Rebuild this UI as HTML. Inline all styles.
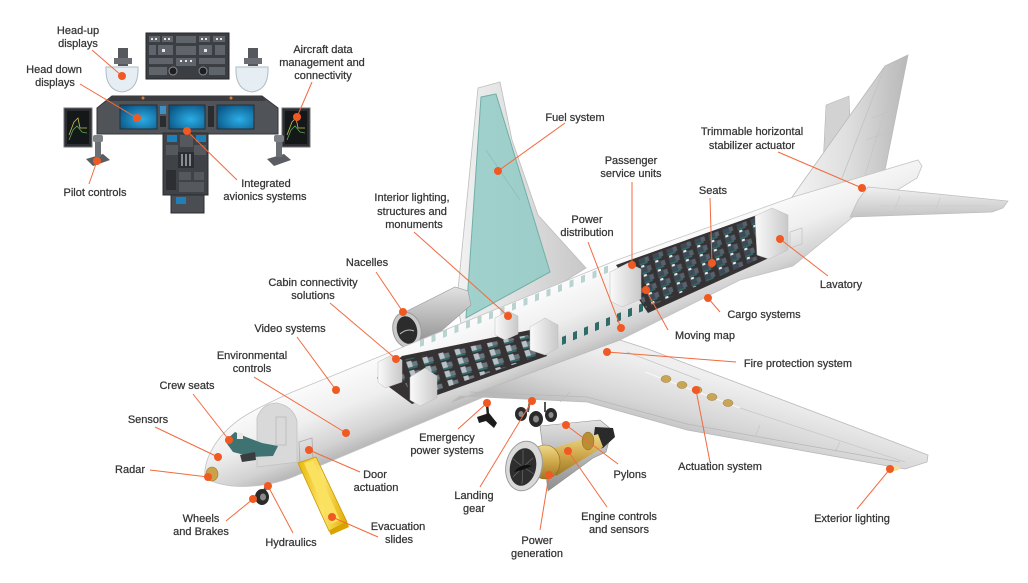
<!DOCTYPE html>
<html><head><meta charset="utf-8">
<style>
html,body{margin:0;padding:0;background:#fff;}
svg{display:block;}
text{font-family:"Liberation Sans",sans-serif;font-size:11px;fill:#353535;stroke:#353535;stroke-width:0.25;text-anchor:middle;}
</style></head><body>
<svg width="1028" height="583" viewBox="0 0 1028 583" xmlns="http://www.w3.org/2000/svg">
<defs>
 <linearGradient id="fus" gradientUnits="userSpaceOnUse" x1="556" y1="280" x2="588" y2="360">
  <stop offset="0" stop-color="#fdfdfd"/>
  <stop offset="0.45" stop-color="#efefef"/>
  <stop offset="0.8" stop-color="#d2d2d2"/>
  <stop offset="1" stop-color="#b4b4b4"/>
 </linearGradient>
 <linearGradient id="wing" gradientUnits="userSpaceOnUse" x1="690" y1="372" x2="672" y2="440">
  <stop offset="0" stop-color="#efefef"/>
  <stop offset="0.6" stop-color="#d6d6d6"/>
  <stop offset="1" stop-color="#b9b9b9"/>
 </linearGradient>
 <linearGradient id="fwing" x1="0" y1="0" x2="1" y2="0">
  <stop offset="0" stop-color="#f2f2f2"/>
  <stop offset="1" stop-color="#c8c8c8"/>
 </linearGradient>
 <linearGradient id="fin" x1="0" y1="0" x2="1" y2="0">
  <stop offset="0" stop-color="#f4f4f4"/>
  <stop offset="0.5" stop-color="#dedede"/>
  <stop offset="1" stop-color="#b8b8b8"/>
 </linearGradient>
 <linearGradient id="stab" x1="0" y1="0" x2="0" y2="1">
  <stop offset="0" stop-color="#f0f0f0"/>
  <stop offset="1" stop-color="#c4c4c4"/>
 </linearGradient>
 <linearGradient id="nac" x1="0" y1="0" x2="0" y2="1">
  <stop offset="0" stop-color="#e2e2e2"/>
  <stop offset="1" stop-color="#8e8e8e"/>
 </linearGradient>
 <linearGradient id="gold" x1="0" y1="0" x2="0" y2="1">
  <stop offset="0" stop-color="#f0d88a"/>
  <stop offset="0.5" stop-color="#cfa84a"/>
  <stop offset="1" stop-color="#9c7625"/>
 </linearGradient>
 <linearGradient id="wall" x1="0" y1="0" x2="1" y2="0">
  <stop offset="0" stop-color="#fafafa"/>
  <stop offset="1" stop-color="#c9c9c9"/>
 </linearGradient>
 <radialGradient id="scr" cx="0.6" cy="0.6" r="0.7">
  <stop offset="0" stop-color="#2aaee6"/>
  <stop offset="1" stop-color="#0b5586"/>
 </radialGradient>
 <linearGradient id="slide" x1="0" y1="0" x2="1" y2="0">
  <stop offset="0" stop-color="#e8b90c"/>
  <stop offset="0.5" stop-color="#fde46a"/>
  <stop offset="1" stop-color="#e0ad00"/>
 </linearGradient>
 <pattern id="seatsF" patternUnits="userSpaceOnUse" width="16" height="10" patternTransform="translate(404,362) matrix(1,-0.26,0.3,0.9,0,0)">
  <rect x="2" y="0.5" width="5" height="7" fill="#b7c1c7"/>
  <rect x="7" y="2" width="5" height="5" fill="#6c7880"/>
  <rect x="2" y="7" width="9" height="2" fill="#2f6b68"/>
 </pattern>
 <pattern id="seatsR" patternUnits="userSpaceOnUse" width="14" height="9" patternTransform="translate(624,272) matrix(1,-0.36,0.28,1,0,0)">
  <rect x="2" y="1" width="6" height="6" fill="#3e4a55"/>
  <rect x="8" y="2" width="4" height="5" fill="#56636e"/>
  <rect x="3" y="0" width="3" height="2" fill="#e8eef0"/>
  <rect x="2" y="7" width="8" height="1.5" fill="#2f6b68"/>
 </pattern>
</defs>

<!-- ============ COCKPIT ============ -->
<g>
 <rect x="146" y="33" width="83" height="46" fill="#3b3e43" stroke="#24262a"/>
 <g fill="#60656c">
  <rect x="149" y="36" width="11" height="6"/><rect x="162" y="36" width="11" height="6"/>
  <rect x="176" y="36" width="20" height="7"/><rect x="199" y="36" width="11" height="6"/><rect x="213" y="36" width="12" height="6"/>
  <rect x="149" y="45" width="7" height="10"/><rect x="158" y="45" width="15" height="10"/>
  <rect x="176" y="46" width="20" height="9"/><rect x="199" y="45" width="13" height="10"/><rect x="215" y="45" width="10" height="10"/>
  <rect x="149" y="58" width="24" height="6"/><rect x="176" y="58" width="20" height="8"/><rect x="199" y="58" width="26" height="6"/>
  <rect x="149" y="67" width="18" height="8"/><rect x="209" y="67" width="16" height="8"/>
 </g>
 <g fill="#e6e6e6">
  <rect x="151" y="38" width="2" height="2"/><rect x="155" y="38" width="2" height="2"/><rect x="164" y="38" width="2" height="2"/><rect x="168" y="38" width="2" height="2"/>
  <rect x="201" y="38" width="2" height="2"/><rect x="205" y="38" width="2" height="2"/><rect x="216" y="38" width="2" height="2"/><rect x="220" y="38" width="2" height="2"/>
  <rect x="180" y="60" width="2" height="2"/><rect x="185" y="60" width="2" height="2"/><rect x="190" y="60" width="2" height="2"/>
  <rect x="162" y="49" width="3" height="3"/><rect x="204" y="49" width="3" height="3"/>
 </g>
 <circle cx="173" cy="71" r="4" fill="#1e1f22" stroke="#8a8d92" stroke-width="1"/>
 <circle cx="203" cy="71" r="4" fill="#1e1f22" stroke="#8a8d92" stroke-width="1"/>

 <rect x="118" y="48" width="10" height="18" fill="#55585c"/>
 <rect x="114" y="58" width="18" height="6" fill="#6b6e72"/>
 <path d="M106,67 L138,67 Q139,90 122,92 Q105,90 106,67 Z" fill="#e7eef3" stroke="#aebbc4"/>
 <rect x="248" y="48" width="10" height="18" fill="#55585c"/>
 <rect x="244" y="58" width="18" height="6" fill="#6b6e72"/>
 <path d="M236,67 L268,67 Q269,90 252,92 Q235,90 236,67 Z" fill="#e7eef3" stroke="#aebbc4"/>

 <path d="M97,108 L112,96 L262,96 L278,108 L278,134 L97,134 Z" fill="#505358" stroke="#34363a"/>
 <path d="M112,96 L262,96 L266,101 L108,101 Z" fill="#3a3c40"/>
 <circle cx="143" cy="98" r="1.5" fill="#e0782f"/><circle cx="231" cy="98" r="1.5" fill="#e0782f"/>
 <rect x="120" y="105" width="37" height="24" fill="url(#scr)" stroke="#2a2c2f"/>
 <rect x="169" y="105" width="36" height="24" fill="url(#scr)" stroke="#2a2c2f"/>
 <rect x="217" y="105" width="37" height="24" fill="url(#scr)" stroke="#2a2c2f"/>
 <rect x="160" y="106" width="6" height="8" fill="#3d8fc4"/><rect x="160" y="116" width="6" height="11" fill="#2a2c30"/>
 <rect x="208" y="106" width="6" height="21" fill="#2a2c30"/>

 <rect x="163" y="133" width="45" height="62" fill="#3f4247" stroke="#2a2c2f"/>
 <rect x="167" y="135" width="10" height="7" fill="#1f7fb8"/><rect x="196" y="135" width="10" height="7" fill="#1f7fb8"/>
 <rect x="180" y="135" width="13" height="12" fill="#55595e"/>
 <rect x="166" y="145" width="12" height="10" fill="#55595e"/><rect x="194" y="145" width="12" height="10" fill="#55595e"/>
 <rect x="178" y="152" width="16" height="16" fill="#2c2e31"/>
 <rect x="181" y="154" width="2" height="12" fill="#8a8d91"/><rect x="185" y="154" width="2" height="12" fill="#8a8d91"/><rect x="189" y="154" width="2" height="12" fill="#8a8d91"/>
 <rect x="166" y="170" width="10" height="20" fill="#2c2e31"/><rect x="179" y="172" width="12" height="8" fill="#55595e"/><rect x="194" y="172" width="10" height="8" fill="#55595e"/>
 <rect x="179" y="182" width="25" height="10" fill="#55595e"/>
 <rect x="171" y="195" width="33" height="18" fill="#4a4d52" stroke="#2a2c2f"/>
 <rect x="176" y="197" width="10" height="7" fill="#1f7fb8"/>

 <rect x="64" y="108" width="28" height="39" fill="#2c2e31" stroke="#707377"/>
 <rect x="67" y="111" width="22" height="33" fill="#151819"/>
 <polyline points="69,135 74,122 78,118 80,128 87,128" fill="none" stroke="#c9c24a" stroke-width="0.8"/>
 <polyline points="69,140 73,130 77,126 82,132 87,133" fill="none" stroke="#5aa65a" stroke-width="0.8"/>
 <rect x="282" y="108" width="28" height="39" fill="#2c2e31" stroke="#707377"/>
 <rect x="285" y="111" width="22" height="33" fill="#151819"/>
 <polyline points="287,135 292,122 296,118 298,128 305,128" fill="none" stroke="#c9c24a" stroke-width="0.8"/>
 <polyline points="287,140 291,130 295,126 300,132 305,133" fill="none" stroke="#5aa65a" stroke-width="0.8"/>

 <polygon points="86,159 103,154 110,160 93,166" fill="#5a5d61"/>
 <rect x="95" y="139" width="6" height="18" fill="#6c6f73"/>
 <rect x="93" y="135" width="10" height="7" rx="2" fill="#7d8085"/>
 <polygon points="267,159 284,154 291,160 274,166" fill="#5a5d61"/>
 <rect x="276" y="139" width="6" height="18" fill="#6c6f73"/>
 <rect x="274" y="135" width="10" height="7" rx="2" fill="#7d8085"/>
</g>

<!-- ============ AIRCRAFT ============ -->
<polygon points="478,88 500,82 512,140 538,215 586,268 560,284 462,330 457,300" fill="url(#fwing)" stroke="#bdbdbd" stroke-width="0.8"/>
<polygon points="481,97 496,94 550,272 466,318" fill="#93cbc5" fill-opacity="0.85" stroke="#6fb0a8" stroke-width="1"/>
<line x1="486" y1="150" x2="520" y2="200" stroke="#7fbab3" stroke-width="0.6"/>

<polygon points="405,312 455,287 468,291 471,305 424,346 410,347" fill="url(#nac)" stroke="#9a9a9a" stroke-width="0.6"/>
<ellipse cx="407" cy="330" rx="14" ry="18" transform="rotate(-15 407 330)" fill="#c9c9c9" stroke="#9a9a9a"/>
<ellipse cx="407" cy="330" rx="10" ry="14" transform="rotate(-15 407 330)" fill="#2c2c2c"/>
<path d="M400,334 Q407,328 414,331" stroke="#bdbdbd" fill="none" stroke-width="1"/>

<polygon points="826,105 849,96 852,170 822,186" fill="#d2d2d2" stroke="#b5b5b5" stroke-width="0.6"/>
<polygon points="790,200 885,66 908,55 885,170" fill="url(#fin)" stroke="#b9b9b9" stroke-width="0.8"/>
<line x1="885" y1="66" x2="842" y2="178" stroke="#c2c2c2" stroke-width="0.8"/>
<line x1="900" y1="62" x2="865" y2="175" stroke="#c2c2c2" stroke-width="0.6"/>
<line x1="872" y1="118" x2="893" y2="110" stroke="#c2c2c2" stroke-width="0.6"/>
<line x1="866" y1="140" x2="888" y2="132" stroke="#c2c2c2" stroke-width="0.6"/>

<path d="M205,478 C203,460 216,436 240,419 C252,411 262,406 290,393 L617,260 L793,197 L918,160 L922,166 L917,178 L853,217 L793,266 L740,280 L620,340 L300,474 C272,487 230,492 205,478 Z" fill="url(#fus)" stroke="#c4c4c4" stroke-width="0.8"/>

<g transform="translate(420,347) skewY(-21.6)" fill="#b8d3d0">
 <rect x="0" y="-7" width="4" height="7"/><rect x="11.5" y="-7" width="4" height="7"/><rect x="23" y="-7" width="4" height="7"/>
 <rect x="34.5" y="-7" width="4" height="7"/><rect x="46" y="-7" width="4" height="7"/><rect x="57.5" y="-7" width="4" height="7"/>
 <rect x="69" y="-7" width="4" height="7"/><rect x="80.5" y="-7" width="4" height="7"/><rect x="92" y="-7" width="4" height="7"/>
 <rect x="103.5" y="-7" width="4" height="7"/><rect x="115" y="-7" width="4" height="7"/><rect x="126.5" y="-7" width="4" height="7"/>
 <rect x="138" y="-7" width="4" height="7"/><rect x="149.5" y="-7" width="4" height="7"/><rect x="161" y="-7" width="4" height="7"/>
 <rect x="172.5" y="-7" width="4" height="7"/><rect x="184" y="-7" width="4" height="7"/>
</g>
<g transform="translate(562,345) skewY(-22.8)" fill="#2f6b68">
 <rect x="0" y="-8" width="4" height="8"/><rect x="11" y="-8" width="4" height="8"/><rect x="22" y="-8" width="4" height="8"/>
 <rect x="33" y="-8" width="4" height="8"/><rect x="44" y="-8" width="4" height="8"/><rect x="55" y="-8" width="4" height="8"/>
 <rect x="66" y="-8" width="4" height="8"/><rect x="77" y="-8" width="4" height="8"/><rect x="88" y="-8" width="4" height="8"/>
</g>

<polygon points="377,378 402,356 530,330 547,356 412,404" fill="#363234"/>
<polygon points="392,362 528,335 542,355 414,398" fill="url(#seatsF)"/>
<polygon points="378,362 392,355 402,360 402,382 385,388 378,382" fill="url(#wall)" stroke="#bdbdbd" stroke-width="0.5"/>
<polygon points="410,377 425,368 437,376 437,398 420,406 410,400" fill="url(#wall)" stroke="#bdbdbd" stroke-width="0.5"/>
<polygon points="495,318 508,311 518,316 518,334 505,340 495,335" fill="url(#wall)" stroke="#bdbdbd" stroke-width="0.5"/>
<polygon points="530,327 545,318 558,325 558,348 545,355 530,350" fill="url(#wall)" stroke="#bdbdbd" stroke-width="0.5"/>

<polygon points="616,265 760,214 769,258 648,313" fill="#363234"/>
<polygon points="620,266 758,217 766,256 646,308" fill="url(#seatsR)"/>
<polygon points="610,272 628,263 641,269 641,299 622,307 610,301" fill="url(#wall)" stroke="#bdbdbd" stroke-width="0.5"/>
<polygon points="755,216 772,208 788,215 788,250 769,259 757,255" fill="url(#wall)" stroke="#bdbdbd" stroke-width="0.5"/>
<polygon points="790,232 802,228 802,244 790,248" fill="none" stroke="#c2c2c2" stroke-width="0.7"/>

<path d="M257,467 L257,418 Q262,403 277,403 Q293,406 297,421 L297,462 Z" fill="#d9d9d9" stroke="#c2c2c2" stroke-width="0.8"/>
<rect x="276" y="417" width="10" height="28" fill="none" stroke="#b5b5b5" stroke-width="0.7"/>
<polygon points="299,442 312,438 313,460 300,464" fill="none" stroke="#aaaaaa" stroke-width="0.8"/>
<polygon points="225,441 235,432 246,437 262,443 278,446 273,456 252,457 233,452" fill="#3f7371"/>
<rect x="237" y="433" width="6" height="6" fill="#e9e9e9"/>
<polygon points="240,455 255,452 256,460 242,462" fill="#3a3d40"/>
<ellipse cx="212" cy="474" rx="6" ry="7" fill="#c9a24a" stroke="#9f7d2e" stroke-width="0.6"/>

<polygon points="868,187 1008,201 1003,208 992,212 850,217 858,200" fill="url(#stab)" stroke="#bcbcbc" stroke-width="0.7"/>
<line x1="880" y1="206" x2="990" y2="206" stroke="#c8c8c8" stroke-width="0.6"/>
<line x1="900" y1="196" x2="893" y2="214" stroke="#c8c8c8" stroke-width="0.6"/>
<line x1="940" y1="198" x2="935" y2="212" stroke="#c8c8c8" stroke-width="0.6"/>

<polygon points="452,402 620,340 648,349 928,455 927,462 905,469 793,449 687,430 587,402 460,396" fill="url(#wing)" stroke="#b9b9b9" stroke-width="0.8"/>
<polyline points="470,392 587,397 687,424 793,443 900,462" fill="none" stroke="#b7b7b7" stroke-width="0.8"/>
<line x1="627" y1="352" x2="700" y2="380" stroke="#c4c4c4" stroke-width="0.7"/>
<line x1="645" y1="372" x2="740" y2="408" stroke="#f7f7f7" stroke-width="1.2"/>
<line x1="740" y1="408" x2="905" y2="462" stroke="#c6c6c6" stroke-width="0.7"/>
<line x1="570" y1="392" x2="560" y2="402" stroke="#bdbdbd" stroke-width="0.7"/>
<line x1="760" y1="425" x2="755" y2="437" stroke="#c4c4c4" stroke-width="0.7"/>
<line x1="840" y1="442" x2="835" y2="452" stroke="#c4c4c4" stroke-width="0.7"/>
<g fill="#c9a55a" stroke="#9c7a33" stroke-width="0.5">
 <ellipse cx="666" cy="379" rx="5" ry="3.5"/><ellipse cx="682" cy="385" rx="5" ry="3.5"/>
 <ellipse cx="697" cy="390" rx="5" ry="3.5"/><ellipse cx="712" cy="397" rx="5" ry="3.5"/>
 <ellipse cx="728" cy="403" rx="5" ry="3.5"/>
</g>
<ellipse cx="893" cy="468" rx="7" ry="3" fill="#f5dca0"/>

<polygon points="540,426 600,420 612,430 606,452 593,458 548,491" fill="url(#nac)" stroke="#8a8a8a" stroke-width="0.6"/>
<polygon points="595,427 613,428 615,437 603,448 592,450" fill="#2a2a2a"/>
<polygon points="548,450 598,434 603,447 556,476" fill="url(#gold)"/>
<ellipse cx="588" cy="441" rx="6" ry="9" fill="#b88f33" stroke="#8c6a20" stroke-width="0.5"/>
<ellipse cx="545" cy="462" rx="15" ry="17" fill="url(#gold)" stroke="#8c6a20" stroke-width="0.6"/>
<ellipse cx="524" cy="466" rx="18" ry="25" transform="rotate(12 524 466)" fill="#d9d9d9" stroke="#9b9b9b"/>
<ellipse cx="523" cy="467" rx="13" ry="19" transform="rotate(12 523 467)" fill="#2e2e2e"/>
<g stroke="#6a6a6a" stroke-width="0.7">
 <line x1="523" y1="467" x2="523" y2="450"/><line x1="523" y1="467" x2="533" y2="458"/><line x1="523" y1="467" x2="534" y2="474"/>
 <line x1="523" y1="467" x2="522" y2="484"/><line x1="523" y1="467" x2="513" y2="477"/><line x1="523" y1="467" x2="512" y2="458"/>
</g>
<path d="M514,472 Q522,462 532,466 Q524,470 514,472 Z" fill="#111"/>

<line x1="530" y1="400" x2="528" y2="412" stroke="#555" stroke-width="2"/>
<line x1="545" y1="402" x2="545" y2="412" stroke="#555" stroke-width="2"/>
<ellipse cx="521" cy="414" rx="6" ry="7" fill="#2a2a2a"/><ellipse cx="521" cy="414" rx="2.5" ry="3" fill="#8a8a8a"/>
<ellipse cx="536" cy="419" rx="7" ry="8" fill="#2a2a2a"/><ellipse cx="536" cy="419" rx="3" ry="3.5" fill="#8a8a8a"/>
<ellipse cx="551" cy="415" rx="6" ry="7" fill="#2a2a2a"/><ellipse cx="551" cy="415" rx="2.5" ry="3" fill="#8a8a8a"/>
<line x1="487" y1="403" x2="488" y2="416" stroke="#222" stroke-width="2.5"/>
<polygon points="477,417 489,413 497,423 494,428 486,421 479,423" fill="#1c1c1c"/>
<line x1="267" y1="484" x2="263" y2="495" stroke="#555" stroke-width="3"/>
<ellipse cx="262" cy="497" rx="7" ry="8" fill="#2b2b2b"/><ellipse cx="263" cy="497" rx="3" ry="3.5" fill="#8a8a8a"/>
<polygon points="298,463 316,457 347,522 329,531" fill="url(#slide)" stroke="#c99a00" stroke-width="0.8"/>
<polygon points="304,463 313,460 340,520 331,524" fill="#fbe160"/>
<polygon points="329,531 347,522 349,527 331,535" fill="#d9a400"/>

<!-- ============ LEADER LINES ============ -->
<g stroke="#f26a3d" stroke-width="1" fill="none">
 <line x1="92" y1="50" x2="122" y2="76"/>
 <line x1="80" y1="84" x2="137" y2="118"/>
 <line x1="312" y1="82" x2="297" y2="117"/>
 <line x1="89" y1="184" x2="97" y2="161"/>
 <line x1="237" y1="180" x2="187" y2="131"/>
 <line x1="414" y1="232" x2="508" y2="316"/>
 <line x1="565" y1="123" x2="498" y2="171"/>
 <line x1="632" y1="182" x2="632" y2="265"/>
 <line x1="710" y1="198" x2="712" y2="263"/>
 <line x1="588" y1="242" x2="621" y2="328"/>
 <line x1="778" y1="152" x2="862" y2="188"/>
 <line x1="780" y1="239" x2="828" y2="276"/>
 <line x1="708" y1="298" x2="720" y2="312"/>
 <line x1="646" y1="290" x2="668" y2="330"/>
 <line x1="607" y1="352" x2="736" y2="362"/>
 <line x1="376" y1="272" x2="403" y2="312"/>
 <line x1="330" y1="303" x2="396" y2="359"/>
 <line x1="297" y1="337" x2="336" y2="390"/>
 <line x1="254" y1="377" x2="346" y2="433"/>
 <line x1="193" y1="394" x2="229" y2="440"/>
 <line x1="155" y1="427" x2="218" y2="457"/>
 <line x1="150" y1="470" x2="208" y2="477"/>
 <line x1="226" y1="521" x2="253" y2="499"/>
 <line x1="268" y1="486" x2="293" y2="533"/>
 <line x1="332" y1="517" x2="378" y2="537"/>
 <line x1="309" y1="450" x2="360" y2="472"/>
 <line x1="487" y1="403" x2="458" y2="429"/>
 <line x1="532" y1="401" x2="480" y2="487"/>
 <line x1="549" y1="475" x2="540" y2="530"/>
 <line x1="568" y1="451" x2="607" y2="507"/>
 <line x1="566" y1="425" x2="618" y2="464"/>
 <line x1="696" y1="390" x2="710" y2="462"/>
 <line x1="890" y1="469" x2="857" y2="509"/>
</g>
<g fill="#f05a22">
 <circle cx="122" cy="76" r="4"/><circle cx="137" cy="118" r="4"/><circle cx="297" cy="117" r="4"/>
 <circle cx="97" cy="161" r="4"/><circle cx="187" cy="131" r="4"/><circle cx="508" cy="316" r="4"/>
 <circle cx="498" cy="171" r="4"/><circle cx="632" cy="265" r="4"/><circle cx="712" cy="263" r="4"/>
 <circle cx="621" cy="328" r="4"/><circle cx="862" cy="188" r="4"/><circle cx="780" cy="239" r="4"/>
 <circle cx="708" cy="298" r="4"/><circle cx="646" cy="290" r="4"/><circle cx="607" cy="352" r="4"/>
 <circle cx="403" cy="312" r="4"/><circle cx="396" cy="359" r="4"/><circle cx="336" cy="390" r="4"/>
 <circle cx="346" cy="433" r="4"/><circle cx="229" cy="440" r="4"/><circle cx="218" cy="457" r="4"/>
 <circle cx="208" cy="477" r="4"/><circle cx="253" cy="499" r="4"/><circle cx="268" cy="486" r="4"/>
 <circle cx="332" cy="517" r="4"/><circle cx="309" cy="450" r="4"/><circle cx="487" cy="403" r="4"/>
 <circle cx="532" cy="401" r="4"/><circle cx="549" cy="475" r="4"/><circle cx="568" cy="451" r="4"/>
 <circle cx="566" cy="425" r="4"/><circle cx="696" cy="390" r="4"/><circle cx="890" cy="469" r="4"/>
</g>

<!-- ============ LABELS ============ -->
<text x="78" y="34">Head-up</text><text x="78" y="47">displays</text>
<text x="54" y="73">Head down</text><text x="55" y="86">displays</text>
<text x="323" y="53">Aircraft data</text><text x="322" y="66">management and</text><text x="323" y="79">connectivity</text>
<text x="95" y="196">Pilot controls</text>
<text x="266" y="187">Integrated</text><text x="265" y="200">avionics systems</text>
<text x="412" y="201">Interior lighting,</text><text x="412" y="215">structures and</text><text x="414" y="228">monuments</text>
<text x="575" y="121">Fuel system</text>
<text x="631" y="164">Passenger</text><text x="631" y="177">service units</text>
<text x="713" y="194">Seats</text>
<text x="587" y="223">Power</text><text x="587" y="236">distribution</text>
<text x="752" y="135">Trimmable horizontal</text><text x="752" y="149">stabilizer actuator</text>
<text x="841" y="288">Lavatory</text>
<text x="764" y="318">Cargo systems</text>
<text x="705" y="339">Moving map</text>
<text x="798" y="367">Fire protection system</text>
<text x="367" y="266">Nacelles</text>
<text x="313" y="286">Cabin connectivity</text><text x="313" y="299">solutions</text>
<text x="290" y="332">Video systems</text>
<text x="252" y="359">Environmental</text><text x="252" y="372">controls</text>
<text x="187" y="389">Crew seats</text>
<text x="148" y="423">Sensors</text>
<text x="130" y="473">Radar</text>
<text x="201" y="522">Wheels</text><text x="201" y="535">and Brakes</text>
<text x="291" y="546">Hydraulics</text>
<text x="398" y="530">Evacuation</text><text x="399" y="543">slides</text>
<text x="375" y="478">Door</text><text x="376" y="491">actuation</text>
<text x="447" y="441">Emergency</text><text x="447" y="454">power systems</text>
<text x="474" y="499">Landing</text><text x="474" y="512">gear</text>
<text x="537" y="544">Power</text><text x="537" y="557">generation</text>
<text x="619" y="520">Engine controls</text><text x="619" y="533">and sensors</text>
<text x="630" y="478">Pylons</text>
<text x="720" y="470">Actuation system</text>
<text x="852" y="522">Exterior lighting</text>
</svg>
</body></html>
